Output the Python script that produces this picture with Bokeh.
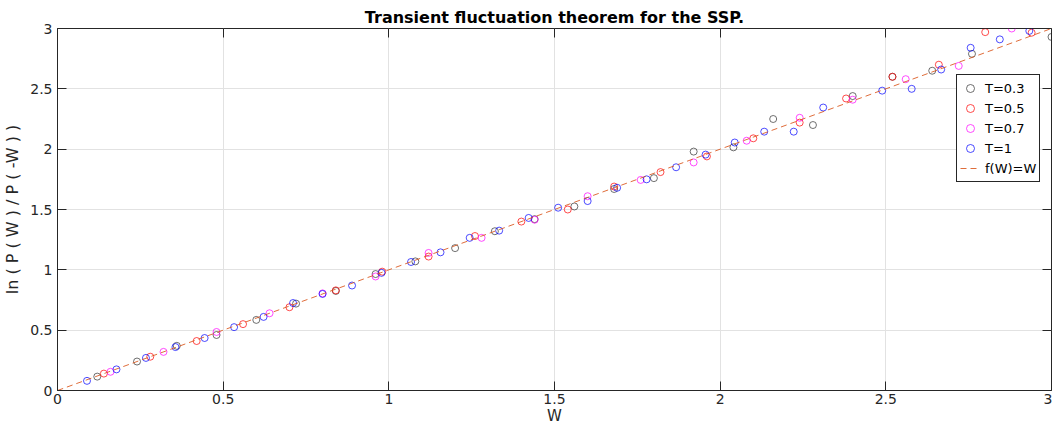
from bokeh.plotting import figure
from bokeh.models import Range1d, LinearAxis, FixedTicker, CustomJSTickFormatter, Legend, LegendItem
from bokeh.embed import file_html
from bokeh.resources import INLINE

# ---- data ----
w_t03 = [0.12, 0.24, 0.36, 0.48, 0.60, 0.72, 0.84, 0.96, 1.08, 1.20, 1.32, 1.44,
         1.56, 1.68, 1.80, 1.92, 2.04, 2.16, 2.28, 2.40, 2.52, 2.64, 2.76, 3.00]
v_t03 = [0.115, 0.24, 0.37, 0.46, 0.585, 0.72, 0.825, 0.965, 1.07, 1.18, 1.32, 1.42,
         1.525, 1.67, 1.76, 1.98, 2.015, 2.25, 2.20, 2.44, 2.60, 2.65, 2.79, 2.93]

w_t05 = [0.14, 0.28, 0.42, 0.56, 0.70, 0.84, 0.98, 1.12, 1.26, 1.40, 1.54,
         1.68, 1.82, 1.96, 2.10, 2.24, 2.38, 2.52, 2.66, 2.80, 2.94]
v_t05 = [0.14, 0.28, 0.41, 0.55, 0.69, 0.83, 0.985, 1.11, 1.28, 1.40, 1.50,
         1.69, 1.81, 1.94, 2.09, 2.22, 2.42, 2.60, 2.70, 2.97, 2.965]

w_t07 = [0.16, 0.32, 0.48, 0.64, 0.80, 0.96, 1.12, 1.28, 1.44, 1.60, 1.76,
         1.92, 2.08, 2.24, 2.40, 2.56, 2.72, 2.88]
v_t07 = [0.155, 0.32, 0.485, 0.64, 0.805, 0.945, 1.14, 1.265, 1.415, 1.61, 1.745,
         1.89, 2.07, 2.26, 2.41, 2.58, 2.69, 3.00]

w_t1 = [0.089, 0.178, 0.267, 0.356, 0.444, 0.533, 0.622, 0.711, 0.800, 0.889, 0.978,
        1.067, 1.156, 1.244, 1.333, 1.422, 1.511, 1.600, 1.689, 1.778, 1.867, 1.956,
        2.044, 2.133, 2.222, 2.311, 2.489, 2.578, 2.667, 2.756, 2.844, 2.933]
v_t1 = [0.08, 0.175, 0.27, 0.36, 0.435, 0.525, 0.61, 0.725, 0.80, 0.87, 0.975,
        1.065, 1.145, 1.265, 1.325, 1.43, 1.515, 1.57, 1.68, 1.75, 1.85, 1.955,
        2.055, 2.145, 2.145, 2.345, 2.485, 2.50, 2.66, 2.84, 2.91, 2.98]

fw_x = [0, 3]
fw_y = [0, 3]

tick_vals = [0, 0.5, 1, 1.5, 2, 2.5, 3]
series_labels = ["T=0.3", "T=0.5", "T=0.7", "T=1"]
line_label = "f(W)=W"
title_text = "Transient fluctuation theorem for the SSP."
x_label = "W"
y_label = "ln ( P ( W ) / P ( -W ) )"

FONT = "DejaVu Sans"
AX = "#262626"

p = figure(width=1052, height=427, x_range=Range1d(0, 3), y_range=Range1d(0, 3),
           output_backend="svg", toolbar_location=None,
           min_border_left=50, min_border_right=1, min_border_top=28, min_border_bottom=0)

p.title.text = title_text
p.title.align = "center"
p.title.text_font = FONT
p.title.text_font_size = "16px"
p.title.text_font_style = "bold"
p.title.text_color = "#000000"
p.title.standoff = 3

p.outline_line_color = AX
p.outline_line_width = 1
p.background_fill_color = "white"

fmt = CustomJSTickFormatter(code="return String(Number(tick.toFixed(2)));")

# labelled axes (no ticks; ticks come from the fixed-location tick axes below)
for ax in (p.xaxis[0], p.yaxis[0]):
    ax.ticker = FixedTicker(ticks=tick_vals)
    ax.formatter = fmt
    ax.major_tick_in = 0
    ax.major_tick_out = 0
    ax.minor_tick_in = 0
    ax.minor_tick_out = 0
    ax.axis_line_color = AX
    ax.major_label_text_font = FONT
    ax.major_label_text_font_size = "14px"
    ax.major_label_text_color = AX
    ax.major_label_standoff = 5
    ax.axis_label_text_font = FONT
    ax.axis_label_text_font_size = "16px"
    ax.axis_label_text_font_style = "normal"
    ax.axis_label_text_color = AX
    ax.axis_label_standoff = 5
p.xaxis[0].axis_label = x_label
p.yaxis[0].axis_label = y_label
p.xaxis[0].major_label_standoff = 3
p.xaxis[0].axis_label_standoff = 0
p.xaxis[0].axis_label_text_font_size = "15px"

def tick_axis(loc, tin, tout):
    a = LinearAxis(fixed_location=loc)
    a.ticker = FixedTicker(ticks=tick_vals)
    a.formatter = CustomJSTickFormatter(code="return '';")
    a.major_label_text_font_size = "0px"
    a.major_label_standoff = 0
    a.axis_label_standoff = 0
    a.major_tick_in = tin
    a.major_tick_out = tout
    a.minor_tick_in = 0
    a.minor_tick_out = 0
    a.axis_line_color = AX
    a.major_tick_line_color = AX
    return a

# inward ticks on all four frame edges
p.add_layout(tick_axis(3, 9, 0), "above")   # top edge, ticks pointing down
p.add_layout(tick_axis(0, 0, 9), "above")   # bottom edge, ticks pointing up
p.add_layout(tick_axis(0, 9, 0), "left")    # left edge, ticks pointing right
p.add_layout(tick_axis(3, 0, 9), "left")    # right edge, ticks pointing left

for g in p.grid:
    g.ticker = FixedTicker(ticks=tick_vals)
    g.grid_line_color = "#e2e2e2"
    g.grid_line_width = 1

colors = ["#333333", "#ff0000", "#ff00ff", "#0000ff"]
data = [(w_t03, v_t03), (w_t05, v_t05), (w_t07, v_t07), (w_t1, v_t1)]
renderers = []
for (xs, ys), c in zip(data, colors):
    r = p.scatter(xs, ys, marker="circle", size=7, fill_color=None,
                  line_color=c, line_alpha=0.7, line_width=1)
    renderers.append(r)

rl = p.line(fw_x, fw_y, line_color="#D95319", line_dash="6 4", line_width=1, line_alpha=0.85)

items = [LegendItem(label=lab, renderers=[r]) for lab, r in zip(series_labels, renderers)]
items.append(LegendItem(label=line_label, renderers=[rl]))
legend = Legend(items=items, location=(899, 208), label_text_font=FONT,
                label_text_font_size="13px", label_text_color="#000000",
                border_line_color=AX, border_line_width=1, border_line_alpha=1,
                background_fill_color="white", background_fill_alpha=1,
                padding=3, spacing=0, label_height=20, glyph_height=20, glyph_width=20,
                label_standoff=5, margin=0)
p.add_layout(legend)

open("out.html", "w").write(file_html(p, INLINE))
